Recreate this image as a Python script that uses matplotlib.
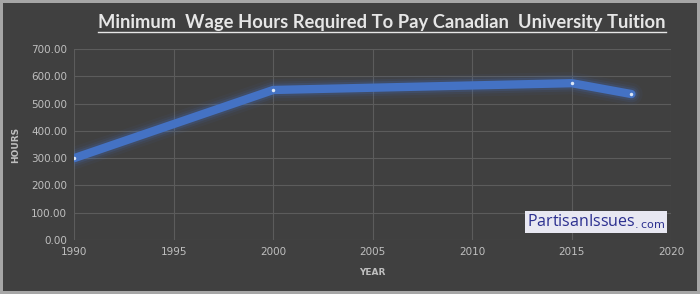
import matplotlib.pyplot as plt
from matplotlib.lines import Line2D

years = [1990, 2000, 2015, 2018]
hours = [300, 550, 575, 535]
y_ticks = [0, 100, 200, 300, 400, 500, 600, 700]
x_ticks = [1990, 1995, 2000, 2005, 2010, 2015, 2020]

bg = '#404040'
txt = '#bfbfbf'
blue = '#4472c4'

fig = plt.figure(figsize=(7, 2.94), dpi=100, facecolor=bg,
                 edgecolor='#a6a6a6', linewidth=3)
ax = fig.add_axes([0.106, 0.184, 0.853, 0.649])
ax.set_facecolor(bg)

# soft glow under the line
for w, a in [(16, 0.06), (12, 0.1), (9, 0.18)]:
    ax.plot(years, hours, color=blue, lw=w, alpha=a, solid_capstyle='round')
ax.plot(years, hours, color=blue, lw=6, solid_capstyle='round')
ax.plot(years, hours, 'o', color='#dce6f5', ms=2.5, mec='none')

ax.set_xlim(1990, 2020)
ax.set_ylim(0, 700)
ax.set_xticks(x_ticks)
ax.set_yticks(y_ticks)
ax.set_yticklabels([f'{v:.2f}' for v in y_ticks])
ax.grid(True, color='#5c5c5c', lw=0.8)
ax.set_axisbelow(True)
for s in ax.spines.values():
    s.set_visible(False)
ax.tick_params(colors=txt, labelsize=7.5, length=0, pad=5)
ax.set_ylabel('HOURS', color=txt, fontsize=6.5, fontweight='bold', labelpad=8)
ax.set_xlabel('YEAR', color=txt, fontsize=6.5, fontweight='bold', labelpad=8)

title = fig.text(0.546, 0.925, 'Minimum  Wage Hours Required To Pay Canadian  University Tuition',
                 ha='center', va='center', color='#e6e6e6', fontsize=13.2,
                 fontweight='bold', family='Lato')
fig.canvas.draw()
bb = title.get_window_extent().transformed(fig.transFigure.inverted())
fig.add_artist(Line2D([bb.x0, bb.x1], [bb.y0 - 0.004, bb.y0 - 0.004],
                      transform=fig.transFigure, color='#e6e6e6', lw=1))

ax.text(0.99, 0.045, 'PartisanIssues$_{\\mathsf{.com}}$', transform=ax.transAxes,
        ha='right', va='bottom', color='#2b2f8f', fontsize=11.5,
        family='Open Sans',
        bbox=dict(boxstyle='square,pad=0.12', fc='#e8e8f2', ec='none'))

fig.savefig('out.png', dpi=100, facecolor=bg, edgecolor='#a6a6a6')
